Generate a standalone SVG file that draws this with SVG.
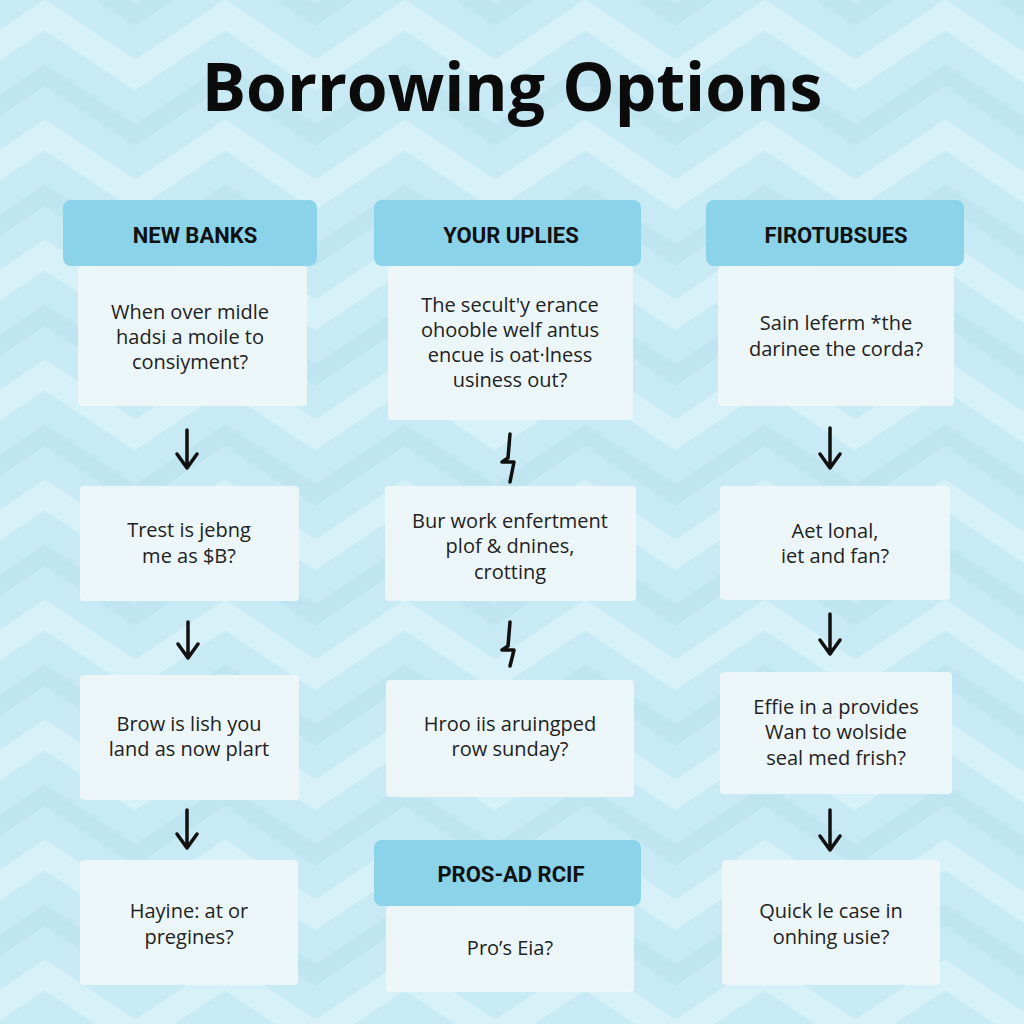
<svg xmlns="http://www.w3.org/2000/svg" width="1024" height="1024" viewBox="0 0 1024 1024">
<defs>
<pattern id="chev" patternUnits="userSpaceOnUse" width="180" height="120">
<rect width="180" height="120" fill="#c8eaf5"/>
<path d="M-45 75 L45 15 L135 75 L225 15" fill="none" stroke="#d7f1f9" stroke-width="26"/>
<path d="M-45 135 L45 75 L135 135 L225 75 M-45 15 L45 -45 L135 15 L225 -45" fill="none" stroke="#bfe5f1" stroke-width="18"/>
</pattern>
<style>
.hdr{fill:#8ad3e9;}
.card{fill:#eef6f9;fill-opacity:0.94;}
.ht{font-family:"Roboto","Liberation Sans",sans-serif;font-weight:700;font-size:22px;fill:#111;text-anchor:middle;}
.bt{font-family:"Open Sans","Noto Sans",sans-serif;font-size:20px;fill:#222;text-anchor:middle;}
.arr{fill:none;stroke:#111;stroke-width:3.5;stroke-linecap:round;stroke-linejoin:round;}
</style>
</defs>
<rect width="1024" height="1024" fill="url(#chev)"/>
<text x="512" y="111" font-family="'Open Sans','Noto Sans',sans-serif" font-weight="700" font-size="66" fill="#0b0b0b" text-anchor="middle">Borrowing Options</text>

<g id="connectors">
<path class="arr" d="M187 430 L187 466 M177 454 L187 468 L197 454"/>
<path class="arr" d="M188 622 L188 656 M178 644 L188 658 L198 644"/>
<path class="arr" d="M187 810 L187 846 M177 834 L187 848 L197 834"/>
<path class="arr" d="M510 434 L508 458 L502 462 L514 462 L510 482"/>
<path class="arr" d="M510 622 L508 646 L502 650 L514 650 L510 666"/>
<path class="arr" d="M830 428 L830 466 M820 454 L830 468 L840 454"/>
<path class="arr" d="M830 614 L830 652 M820 640 L830 654 L840 640"/>
<path class="arr" d="M830 810 L830 848 M820 836 L830 850 L840 836"/>
</g>

<g id="col1-header"><rect class="hdr" x="63" y="200" width="254" height="66" rx="8"/><text class="ht" x="195" y="243">NEW BANKS</text></g>
<g id="col1-card1"><rect class="card" x="78" y="266" width="229" height="140" rx="4"/>
<text class="bt" x="190" y="319">When over midle</text><text class="bt" x="190" y="344">hadsi a moile to</text><text class="bt" x="190" y="369">consiyment?</text></g>
<g id="col1-card2"><rect class="card" x="80" y="486" width="219" height="115" rx="4"/>
<text class="bt" x="189" y="537">Trest is jebng</text><text class="bt" x="189" y="563">me as $B?</text></g>
<g id="col1-card3"><rect class="card" x="80" y="675" width="219" height="125" rx="4"/>
<text class="bt" x="189" y="731">Brow is lish you</text><text class="bt" x="189" y="756">land as now plart</text></g>
<g id="col1-card4"><rect class="card" x="80" y="860" width="218" height="125" rx="4"/>
<text class="bt" x="189" y="918">Hayine: at or</text><text class="bt" x="189" y="944">pregines?</text></g>

<g id="col2-header"><rect class="hdr" x="374" y="200" width="267" height="66" rx="8"/><text class="ht" x="511" y="243">YOUR UPLIES</text></g>
<g id="col2-card1"><rect class="card" x="388" y="266" width="245" height="154" rx="4"/>
<text class="bt" x="510" y="312">The secult'y erance</text><text class="bt" x="510" y="337">ohooble welf antus</text><text class="bt" x="510" y="362">encue is oat·lness</text><text class="bt" x="510" y="387">usiness out?</text></g>
<g id="col2-card2"><rect class="card" x="385" y="486" width="251" height="115" rx="4"/>
<text class="bt" x="510" y="528">Bur work enfertment</text><text class="bt" x="510" y="553">plof &amp; dnines,</text><text class="bt" x="510" y="579">crotting</text></g>
<g id="col2-card3"><rect class="card" x="386" y="680" width="248" height="117" rx="4"/>
<text class="bt" x="510" y="731">Hroo iis aruingped</text><text class="bt" x="510" y="756">row sunday?</text></g>
<g id="col2-header2"><rect class="hdr" x="374" y="840" width="267" height="66" rx="8"/><text class="ht" x="511" y="882">PROS-AD RCIF</text></g>
<g id="col2-card4"><rect class="card" x="386" y="906" width="248" height="86" rx="4"/>
<text class="bt" x="510" y="955">Pro’s Eia?</text></g>

<g id="col3-header"><rect class="hdr" x="706" y="200" width="258" height="66" rx="8"/><text class="ht" x="836" y="243">FIROTUBSUES</text></g>
<g id="col3-card1"><rect class="card" x="718" y="266" width="236" height="140" rx="4"/>
<text class="bt" x="836" y="330">Sain leferm *the</text><text class="bt" x="836" y="356">darinee the corda?</text></g>
<g id="col3-card2"><rect class="card" x="720" y="486" width="230" height="114" rx="4"/>
<text class="bt" x="835" y="538">Aet lonal,</text><text class="bt" x="835" y="563">iet and fan?</text></g>
<g id="col3-card3"><rect class="card" x="720" y="672" width="232" height="122" rx="4"/>
<text class="bt" x="836" y="714">Effie in a provides</text><text class="bt" x="836" y="739">Wan to wolside</text><text class="bt" x="836" y="765">seal med frish?</text></g>
<g id="col3-card4"><rect class="card" x="722" y="860" width="218" height="125" rx="4"/>
<text class="bt" x="831" y="918">Quick le case in</text><text class="bt" x="831" y="944">onhing usie?</text></g>
</svg>
